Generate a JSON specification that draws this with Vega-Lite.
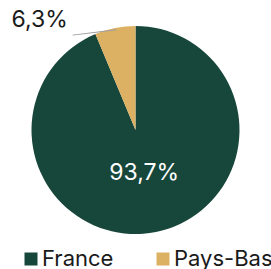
{
  "$schema": "https://vega.github.io/schema/vega-lite/v6.json",
  "autosize": {"type": "none"},
  "width": 271,
  "height": 260,
  "padding": {"left": 0, "top": 0, "right": 0, "bottom": 9},
  "background": "white",
  "config": {"view": {"stroke": null}, "font": "Inter"},
  "data": {"values": [
    {"pays": "France", "part": 93.7, "label": "93,7%"},
    {"pays": "Pays-Bas", "part": 6.3, "label": "6,3%"}
  ]},
  "encoding": {
    "theta": {"field": "part", "type": "quantitative", "stack": true},
    "order": {"field": "pays", "sort": "ascending"}
  },
  "layer": [
    {
      "mark": {"type": "arc", "outerRadius": 104},
      "encoding": {
        "color": {
          "field": "pays", "type": "nominal",
          "scale": {"domain": ["France", "Pays-Bas"], "range": ["#17463A", "#DDB163"]},
          "legend": {
            "title": null, "orient": "none", "direction": "horizontal",
            "legendX": 20, "legendY": 248,
            "symbolType": "square", "symbolSize": 169,
            "labelFontSize": 22, "labelColor": "#1a1a1a", "labelFont": "Inter",
            "columnPadding": 38, "symbolOffset": 0, "labelOffset": 0
          }
        }
      }
    },
    {
      "mark": {"type": "text", "radius": 44, "fontSize": 23, "color": "white", "font": "Inter"},
      "encoding": {"text": {"condition": {"test": "datum.pays == 'France'", "field": "label"}, "value": ""}}
    },
    {
      "mark": {"type": "text", "radius": 120, "fontSize": 23, "color": "#1a1a1a", "font": "Inter", "align": "right", "dx": -44, "dy": 8},
      "encoding": {"text": {"condition": {"test": "datum.pays == 'Pays-Bas'", "field": "label"}, "value": ""}}
    },
    {
      "mark": {"type": "text", "radius": 104, "fontSize": 44, "fontWeight": 100, "color": "#a0a0a0", "font": "Inter", "align": "center", "baseline": "middle", "angle": 353, "dx": -21, "dy": 2.5},
      "encoding": {"text": {"condition": {"test": "datum.pays == 'Pays-Bas'", "value": "—"}, "value": ""}}
    }
  ]
}
